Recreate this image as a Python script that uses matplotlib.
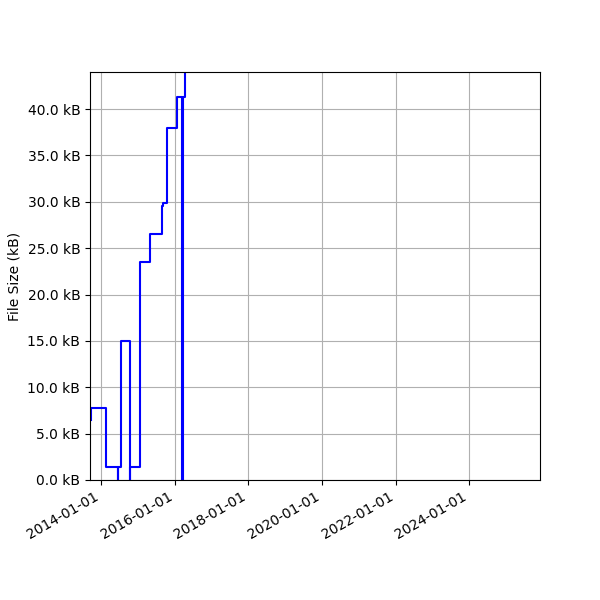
import matplotlib
matplotlib.use('Agg')
import matplotlib.pyplot as plt
import matplotlib.dates as mdates
import matplotlib.ticker as mticker
from datetime import datetime

# commit dates and file sizes (kB)
dates = [
    "2013-09-23", "2013-09-25", "2014-02-16", "2014-06-18", "2014-06-21",
    "2014-07-14", "2014-10-15", "2014-10-18", "2015-01-22", "2015-05-01",
    "2015-08-25", "2015-09-04", "2015-10-17", "2016-01-27", "2016-03-19",
    "2016-03-23", "2016-04-16", "2016-09-01",
]
sizes = [
    6.5, 7.8, 1.37, 0.0, 1.37,
    15.0, 0.0, 1.43, 23.5, 26.5,
    29.5, 29.9, 38.0, 41.3, 0.0,
    41.3, 60.0, 62.0,
]

xs = [datetime.strptime(d, '%Y-%m-%d') for d in dates]

fig = plt.figure(figsize=(6, 6), dpi=100)
ax = fig.add_subplot(1, 1, 1)
ax.step(xs, sizes, where='post', color='b')

ax.set_xlim(datetime(2013, 9, 13), datetime(2025, 12, 5))
ax.set_ylim(0, 44.0)
ax.xaxis.set_major_locator(mdates.YearLocator(2))
ax.xaxis.set_major_formatter(mdates.DateFormatter('%Y-%m-%d'))
ax.yaxis.set_major_locator(mticker.MultipleLocator(5))
ax.yaxis.set_major_formatter(mticker.FormatStrFormatter('%.1f kB'))
ax.set_ylabel('File Size (kB)')
ax.grid(True)

fig.autofmt_xdate()
fig.subplots_adjust(left=0.15, right=0.9, top=0.88, bottom=0.2)
fig.savefig('out.png')
